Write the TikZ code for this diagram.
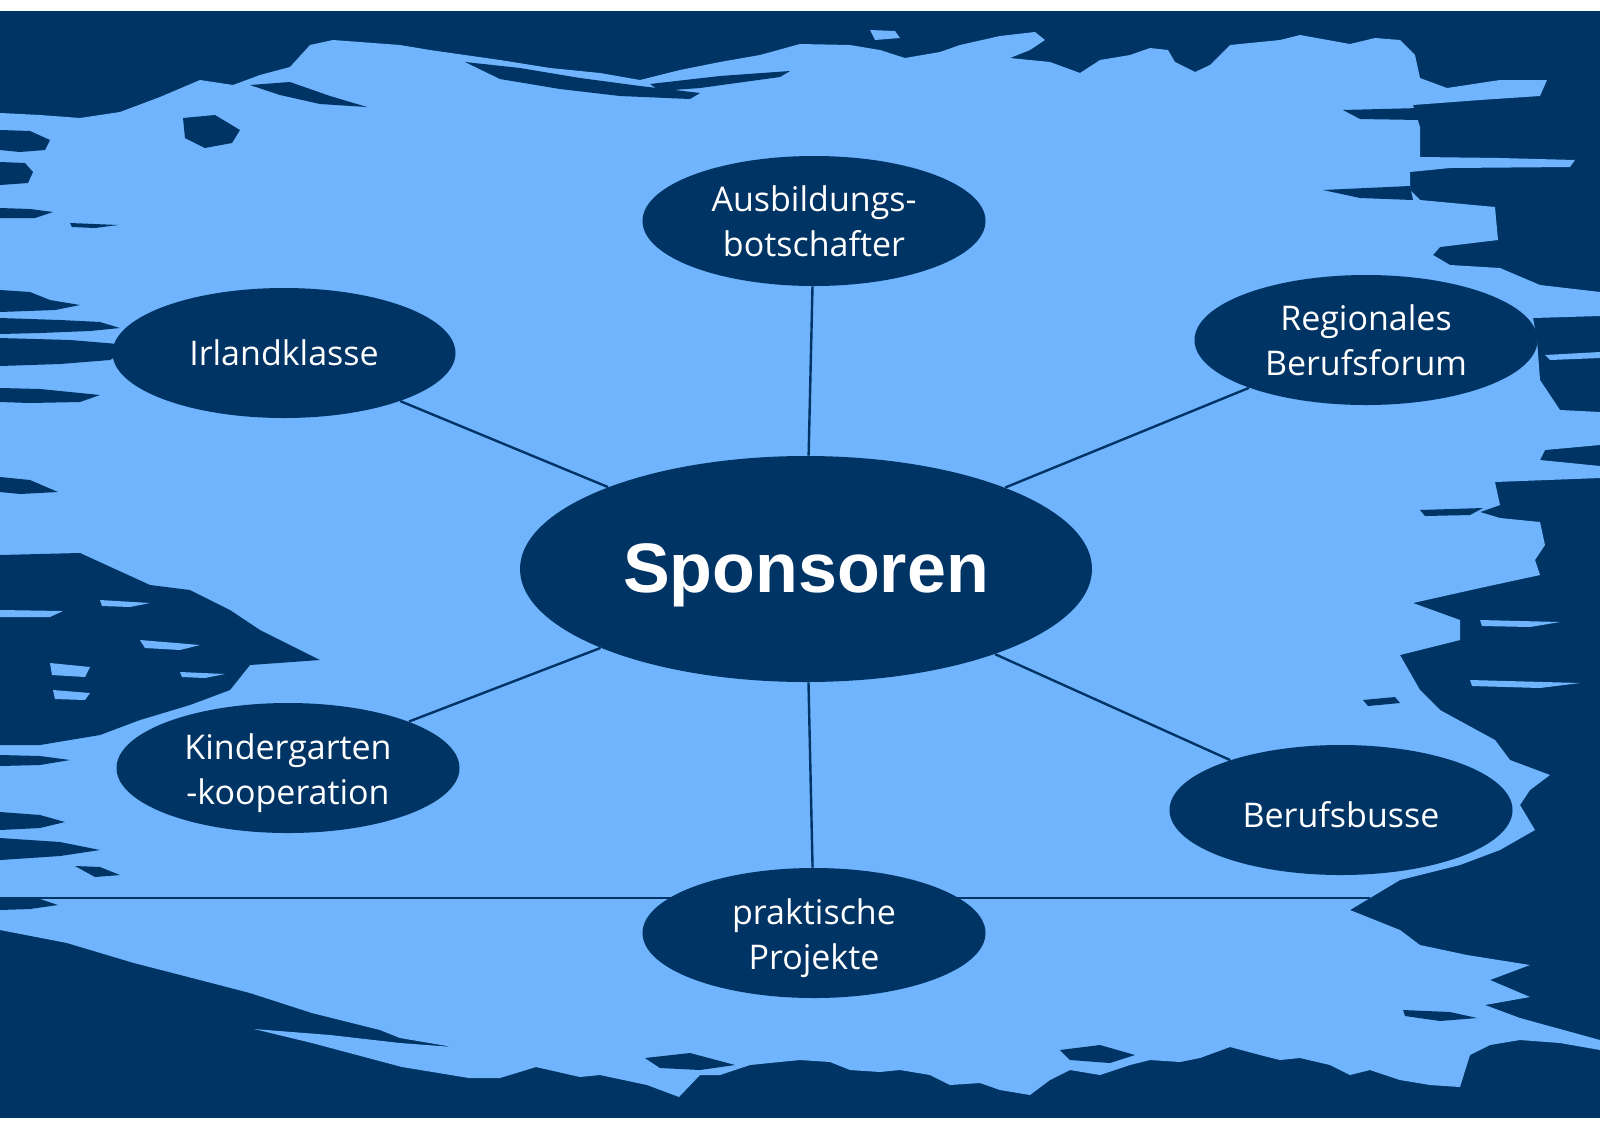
\documentclass[tikz,border=0pt]{standalone}
\usepackage{fontspec}
\usetikzlibrary{shapes.geometric}
\newfontfamily\labelfam{Open Sans}
\newfontfamily\hubfam{Liberation Sans}
\definecolor{navy}{RGB}{0,52,101}
\definecolor{skyblue}{RGB}{111,180,252}
\tikzset{
  bubble/.style={ellipse, fill=navy, minimum width=171.5pt, minimum height=65pt, inner sep=0pt},
  bubbletext/.style={text=white, inner sep=0pt, align=center, yshift=-2.5pt,
    font=\labelfam\fontsize{17}{22.5}\selectfont},
  hub/.style={ellipse, fill=navy, minimum width=286pt, minimum height=113pt, inner sep=0pt},
  hubtext/.style={text=white, inner sep=0pt, yshift=-3pt,
    font=\hubfam\bfseries\fontsize{35}{40}\selectfont},
  spoke/.style={draw=navy, line width=1.2pt},
  rule/.style={draw=navy, line width=0.6pt},
  streak/.style={fill=navy},
  lightpatch/.style={fill=skyblue}
}
\begin{document}
\begin{tikzpicture}[x=0.5pt,y=-0.5pt]
\useasboundingbox (0,0) rectangle (1600,1131);
\fill[white] (0,0) rectangle (1600,1131);
\fill[navy] (0,11) rectangle (1600,1118);
% light brush area
\fill[skyblue] (0,113) -- (40,115) -- (80,118) -- (120,112) -- (160,97) -- (200,80) -- (233,85) -- (260,75) -- (290,67) -- (310,45) -- (333,40) -- (400,45) -- (430,50) -- (500,60) -- (550,68) -- (600,73) -- (640,80) -- (680,70) -- (720,62) -- (760,55) -- (800,44) -- (850,45) -- (880,50) -- (905,58) -- (940,52) -- (960,45) -- (1000,36) -- (1035,32) -- (1045,40) -- (1030,50) -- (1010,58) -- (1050,62) -- (1080,73) -- (1100,60) -- (1130,55) -- (1150,48) -- (1168,50) -- (1175,62) -- (1195,72) -- (1210,65) -- (1230,45) -- (1280,40) -- (1300,35) -- (1350,44) -- (1375,38) -- (1400,40) -- (1415,55) -- (1420,78) -- (1447,88) -- (1500,80) -- (1547,80) -- (1540,96) -- (1480,100) -- (1413,105) -- (1420,127) -- (1420,157) -- (1500,158) -- (1575,160) -- (1570,167) -- (1450,168) -- (1410,172) -- (1410,190) -- (1420,200) -- (1495,207) -- (1498,240) -- (1440,247) -- (1433,255) -- (1450,265) -- (1500,268) -- (1540,285) -- (1600,292) -- (1600,316) -- (1533,318) -- (1537,340) -- (1540,380) -- (1560,410) -- (1600,412) -- (1600,445) -- (1545,450) -- (1540,460) -- (1600,466) -- (1600,478) -- (1495,482) -- (1500,505) -- (1480,512) -- (1500,518) -- (1540,522) -- (1545,545) -- (1535,560) -- (1540,575) -- (1480,588) -- (1413,603) -- (1460,620) -- (1460,640) -- (1400,655) -- (1420,690) -- (1440,710) -- (1495,740) -- (1510,760) -- (1550,775) -- (1530,790) -- (1520,805) -- (1535,830) -- (1500,850) -- (1460,865) -- (1400,880) -- (1375,895) -- (1350,910) -- (1400,930) -- (1420,945) -- (1467,955) -- (1530,965) -- (1490,980) -- (1530,997) -- (1485,1005) -- (1520,1018) -- (1600,1040) -- (1600,1050) -- (1560,1043) -- (1520,1040) -- (1490,1045) -- (1470,1055) -- (1460,1087) -- (1430,1085) -- (1400,1080) -- (1370,1070) -- (1350,1075) -- (1330,1065) -- (1300,1058) -- (1280,1060) -- (1260,1055) -- (1230,1047) -- (1200,1058) -- (1180,1062) -- (1150,1060) -- (1130,1065) -- (1100,1075) -- (1070,1070) -- (1050,1080) -- (1030,1095) -- (1000,1090) -- (980,1083) -- (950,1085) -- (930,1075) -- (900,1070) -- (880,1072) -- (850,1070) -- (830,1062) -- (800,1060) -- (780,1062) -- (750,1065) -- (720,1075) -- (700,1075) -- (679,1097) -- (647,1085) -- (600,1075) -- (580,1077) -- (536,1067) -- (500,1078) -- (469,1078) -- (402,1067) -- (312,1043) -- (254,1029) -- (330,1035) -- (400,1043) -- (453,1047) -- (400,1038) -- (380,1030) -- (312,1013) -- (250,993) -- (200,980) -- (134,963) -- (67,943) -- (0,930) -- cycle;
% dark streaks, left side
\fill[streak] (0,130) -- (30,131) -- (50,140) -- (45,150) -- (20,152) -- (0,150) -- cycle;
\fill[streak] (0,162) -- (25,163) -- (33,172) -- (28,183) -- (0,185) -- cycle;
\fill[streak] (183,118) -- (215,115) -- (240,130) -- (232,143) -- (205,148) -- (185,138) -- cycle;
\fill[streak] (0,208) -- (30,209) -- (53,212) -- (35,218) -- (0,218) -- cycle;
\fill[streak] (70,223) -- (118,225) -- (95,228) -- (72,227) -- cycle;
\fill[streak] (0,290) -- (30,292) -- (50,300) -- (80,305) -- (55,310) -- (0,312) -- cycle;
\fill[streak] (0,318) -- (60,320) -- (100,322) -- (120,328) -- (90,331) -- (40,333) -- (0,334) -- cycle;
\fill[streak] (0,338) -- (70,340) -- (118,344) -- (123,352) -- (110,360) -- (60,364) -- (0,366) -- cycle;
\fill[streak] (0,388) -- (40,389) -- (100,395) -- (80,402) -- (30,403) -- (0,402) -- cycle;
\fill[streak] (0,477) -- (30,480) -- (58,492) -- (20,494) -- (0,492) -- cycle;
\fill[streak] (0,555) -- (80,553) -- (150,585) -- (190,590) -- (230,610) -- (260,630) -- (320,660) -- (250,665) -- (230,690) -- (190,705) -- (140,720) -- (100,735) -- (40,745) -- (0,745) -- cycle;
\fill[lightpatch] (50,663) -- (90,667) -- (85,677) -- (52,675) -- cycle;
\fill[lightpatch] (53,690) -- (90,693) -- (85,700) -- (55,699) -- cycle;
\fill[lightpatch] (0,610) -- (63,611) -- (50,617) -- (0,617) -- cycle;
\fill[lightpatch] (140,640) -- (200,645) -- (180,650) -- (145,648) -- cycle;
\fill[lightpatch] (100,600) -- (150,603) -- (130,607) -- (102,606) -- cycle;
\fill[lightpatch] (180,672) -- (225,674) -- (205,678) -- (182,677) -- cycle;
\fill[streak] (0,755) -- (40,756) -- (70,760) -- (40,765) -- (0,766) -- cycle;
\fill[streak] (0,812) -- (40,815) -- (65,822) -- (40,828) -- (0,830) -- cycle;
\fill[streak] (0,838) -- (60,842) -- (100,850) -- (60,856) -- (0,860) -- cycle;
\fill[streak] (75,866) -- (100,867) -- (120,875) -- (95,877) -- cycle;
\fill[streak] (0,897) -- (40,899) -- (58,905) -- (30,909) -- (0,910) -- cycle;
% top streaks
\fill[streak] (465,62) -- (520,68) -- (580,78) -- (640,86) -- (700,93) -- (690,99) -- (620,96) -- (560,89) -- (500,79) -- cycle;
\fill[streak] (650,84) -- (720,76) -- (790,71) -- (780,77) -- (700,88) -- (660,91) -- cycle;
\fill[streak] (250,85) -- (290,82) -- (330,96) -- (367,107) -- (320,104) -- (280,95) -- cycle;
\fill[lightpatch] (870,30) -- (895,31) -- (900,38) -- (875,40) -- cycle;
% right streaks
\fill[streak] (1343,110) -- (1420,108) -- (1457,113) -- (1420,120) -- (1360,119) -- cycle;
\fill[streak] (1323,190) -- (1410,186) -- (1413,200) -- (1360,198) -- cycle;
\fill[streak] (1420,510) -- (1483,508) -- (1470,515) -- (1425,516) -- cycle;
\fill[streak] (1363,700) -- (1395,697) -- (1400,703) -- (1368,706) -- cycle;
\fill[streak] (1403,1010) -- (1450,1012) -- (1477,1018) -- (1440,1021) -- (1405,1016) -- cycle;
\fill[lightpatch] (1480,620) -- (1560,622) -- (1530,627) -- (1482,626) -- cycle;
\fill[lightpatch] (1470,680) -- (1580,683) -- (1540,688) -- (1472,686) -- cycle;
\fill[lightpatch] (1545,355) -- (1600,352) -- (1600,358) -- (1550,360) -- cycle;
% bottom streaks
\fill[streak] (1060,1050) -- (1100,1045) -- (1135,1055) -- (1110,1063) -- (1070,1060) -- cycle;
\fill[streak] (645,1058) -- (690,1053) -- (735,1065) -- (700,1070) -- (660,1068) -- cycle;
% thin horizontal rule
\coordinate (hl1) at (0,898);
\coordinate (hl2) at (1370,898);
\draw[rule] (hl1) -- (hl2);
% nodes
\node[hub] (hub) at (806,569) {};
\node[bubble] (aus) at (814,221) {};
\node[bubble] (irl) at (284,353) {};
\node[bubble] (reg) at (1366,340) {};
\node[bubble] (kin) at (288,768) {};
\node[bubble] (bus) at (1341,810) {};
\node[bubble] (pra) at (814,933) {};
\node[hubtext] (hub-t) at (hub) {Sponsoren};
\node[bubbletext, yshift=2.5pt] (aus-t) at (aus) {Ausbildungs-\\botschafter};
\node[bubbletext, yshift=2.5pt] (irl-t) at (irl) {Irlandklasse};
\node[bubbletext, yshift=2.5pt] (reg-t) at (reg) {Regionales\\Berufsforum};
\node[bubbletext] (kin-t) at (kin) {Kindergarten\\-kooperation};
\node[bubbletext] (bus-t) at (bus) {Berufsbusse};
\node[bubbletext] (pra-t) at (pra) {praktische\\Projekte};
% connectors
\draw[spoke] (hub) -- (aus);
\draw[spoke] (hub) -- (irl);
\draw[spoke] (hub) -- (reg);
\draw[spoke] (hub) -- (kin);
\draw[spoke] (hub) -- (bus);
\draw[spoke] (hub) -- (pra);
\end{tikzpicture}
\end{document}
